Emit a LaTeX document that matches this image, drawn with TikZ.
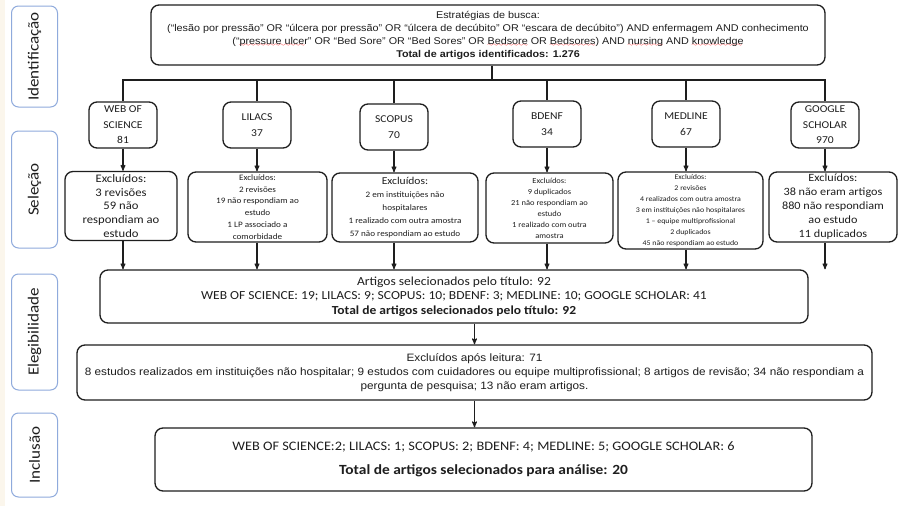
\documentclass[tikz,border=0pt]{standalone}
\usepackage{fontspec}
\setmainfont{Liberation Sans}[FakeStretch=1.1]
\newfontfamily\calib{Carlito}[FakeStretch=1.1]
\usetikzlibrary{arrows}
\definecolor{stageblue}{HTML}{8FAADC}
\definecolor{ink}{HTML}{1E1E1E}
\definecolor{paper}{HTML}{FBF6EC}
\font\wavyfont=lasy6
\newsavebox{\spellbox}
\newcommand{\spell}[1]{\sbox{\spellbox}{#1}\rlap{\textcolor{red}{\lower2.4pt\hbox to\wd\spellbox{\leaders\hbox{\wavyfont\char58}\hfill}}}\usebox{\spellbox}}
\tikzstyle{stage}=[draw=stageblue,line width=1pt,rounded corners=7pt,rotate=90,minimum height=46pt,inner sep=0pt,text=ink,font=\calib\fontsize{15.5}{17}\selectfont]
\tikzstyle{box}=[draw=ink,line width=1.3pt,rounded corners=8pt,align=center,inner sep=1pt,text=ink]
\tikzstyle{db}=[box,minimum width=68pt,minimum height=46pt,font=\calib\fontsize{10.5}{15.5}\selectfont]
\tikzstyle{excl}=[box,minimum height=69pt]
\tikzstyle{line}=[draw=ink,line width=1.3pt]
\tikzstyle{arr}=[->,>=stealth',draw=ink,line width=1.1pt]

\begin{document}
\begin{tikzpicture}[x=1pt,y=-1pt]
    \fill[white] (0,0) rectangle (899,506);
    \fill[paper] (0,0) rectangle (5,506);
    \useasboundingbox (0,0) rectangle (899,506);
    \node[stage,minimum width=101pt] (ident) at (34.5,56.5) {Identificação};
    \node[stage,minimum width=117pt] (selec) at (34.5,189.5) {Seleção};
    \node[stage,minimum width=116pt] (eleg) at (34.5,332) {Elegibilidade};
    \node[stage,minimum width=84pt] (incl) at (34.5,455) {Inclusão};
    \node[box,minimum width=674pt,minimum height=60pt,font=\fontsize{9.8}{13}\selectfont] (top) at (488,35) {Estratégias de busca:\\(“lesão por pressão” OR “úlcera por pressão” OR “úlcera de decúbito” OR “escara de decúbito”) AND enfermagem AND conhecimento\\(“\spell{pressure ulcer}” OR “Bed Sore” OR “Bed Sores” OR \spell{Bedsore} OR \spell{Bedsores}) AND \spell{nursing} AND \spell{knowledge}\\\textbf{Total de artigos identificados: 1.276}};
    \node[db] (wos) at (123,125) {WEB OF\\SCIENCE\\81};
    \node[db] (lilacs) at (257,125) {LILACS\\37};
    \node[db] (scopus) at (394,127) {SCOPUS\\70};
    \node[db] (bdenf) at (547,124) {BDENF\\34};
    \node[db] (medline) at (686,124) {MEDLINE\\67};
    \node[db] (google) at (825,125) {GOOGLE\\SCHOLAR\\970};
    \node[excl,minimum width=112pt,font=\calib\fontsize{11.5}{13.6}\selectfont] (wosx) at (121,206) {Excluídos:\\3 revisões\\59 não\\respondiam ao\\estudo};
    \node[excl,minimum width=139pt,minimum height=70pt,font=\calib\fontsize{8.3}{11.8}\selectfont] (lilacsx) at (257.5,207) {Excluídos:\\2 revisões\\19 não respondiam ao\\estudo\\1 LP associado a\\comorbidade};
    \node[excl,minimum width=146pt,font=\calib\fontsize{8.3}{13}\selectfont] (scopusx) at (405,207.5) {{\fontsize{10.5}{13}\selectfont Excluídos:}\\2 em instituições não\\hospitalares\\1 realizado com outra amostra\\57 não respondiam ao estudo};
    \node[excl,minimum width=127pt,minimum height=70pt,font=\calib\fontsize{7.7}{11}\selectfont] (bdenfx) at (549.5,208) {Excluídos:\\9 duplicados\\21 não respondiam ao\\estudo\\1 realizado com outra\\amostra};
    \node[excl,minimum width=145pt,minimum height=77pt,font=\calib\fontsize{7.2}{11}\selectfont] (medlinex) at (690.5,210.5) {Excluídos:\\2 revisões\\4 realizados com outra amostra\\3 em instituições não hospitalares\\1 – equipe multiprofissional\\2 duplicados\\45 não respondiam ao estudo};
    \node[excl,minimum width=128pt,minimum height=70pt,font=\calib\fontsize{11.1}{14}\selectfont] (googlex) at (833,207) {Excluídos:\\38 não eram artigos\\880 não respondiam\\ao estudo\\11 duplicados};
    \node[box,minimum width=708pt,minimum height=53pt,font=\calib\fontsize{12.3}{14.5}\selectfont] (sel) at (454,296.5) {Artigos selecionados pelo título: 92\\WEB OF SCIENCE: 19; LILACS: 9; SCOPUS: 10; BDENF: 3; MEDLINE: 10; GOOGLE SCHOLAR: 41\\\textbf{Total de artigos selecionados pelo título: 92}};
    \node[box,minimum width=795pt,minimum height=55pt,font=\fontsize{10.7}{14}\selectfont] (leit) at (474.5,372.5) {Excluídos após leitura: 71\\8 estudos realizados em instituições não hospitalar; 9 estudos com cuidadores ou equipe multiprofissional; 8 artigos de revisão; 34 não respondiam a\\pergunta de pesquisa; 13 não eram artigos.};
    \node[box,minimum width=657pt,minimum height=63pt,font=\calib\fontsize{13}{24}\selectfont] (final) at (483.5,459.5) {WEB OF SCIENCE:2; LILACS: 1; SCOPUS: 2; BDENF: 4; MEDLINE: 5; GOOGLE SCHOLAR: 6\\{\fontsize{14}{17}\selectfont\bfseries Total de artigos selecionados para análise: 20}};
    \coordinate (split) at (492,80);
    \draw[line] (top.south -| split) -- (split);
    \foreach \db in {wos,lilacs,scopus,bdenf,medline,google}
        \draw[line] (split) -| (\db.north);
    \foreach \db in {wos,lilacs,scopus,bdenf,medline,google} {
        \draw[arr] (\db.south) -- (\db.south |- \db x.north);
        \draw[arr] (\db x.south -| \db) -- (sel.north -| \db);
    }
    \draw[arr] (sel.south -| leit) -- (leit.north);
    \draw[arr] (leit.south) -- (leit.south |- final.north);
\end{tikzpicture}
\end{document}
